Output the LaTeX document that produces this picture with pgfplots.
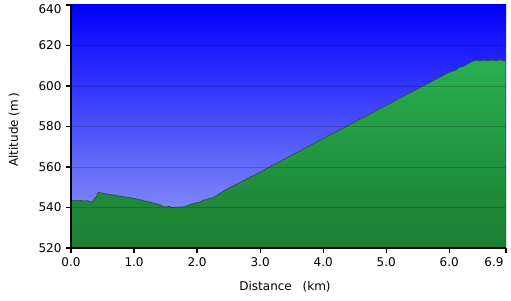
\documentclass[border=0pt]{standalone}
\usepackage{pgfplots}
\pgfplotsset{compat=1.18}
\usepackage{fontspec}
\setmainfont{DejaVu Sans}
\definecolor{skytop}{RGB}{0,0,255}
\definecolor{skybot}{RGB}{150,160,245}
\definecolor{grtop}{RGB}{40,175,80}
\definecolor{grbot}{RGB}{28,125,50}
\definecolor{edge}{RGB}{45,80,60}
\begin{document}
\begin{tikzpicture}[font=\fontsize{12bp}{14bp}\selectfont]
\useasboundingbox (0,0) rectangle (511bp,301bp);
\fill[white] (0,0) rectangle (511bp,301bp);
\begin{axis}[
  at={(71bp,53bp)}, anchor=south west,
  scale only axis, width=435bp, height=243bp,
  xmin=0, xmax=6.9, ymin=520, ymax=640,
  axis lines*=left,
  axis line style={black, line width=1.6bp},
  axis on top,
  xtick={0,1,2,3,4,5,6},
  xticklabels={0.0,1.0,2.0,3.0,4.0,5.0,6.0},
  extra x ticks={6.9},
  extra x tick labels={6.9},
  extra x tick style={xticklabel style={anchor=north east, xshift=1bp}},
  ytick={520,540,...,620},
  yticklabels={520,540,560,580,600,620},
  extra y ticks={640},
  extra y tick labels={640},
  extra y tick style={yticklabel style={yshift=-4bp}},
  tick align=outside,
  major tick length=5bp,
  tick style={black, line width=1.2bp},
  ymajorgrids,
  major grid style={black, opacity=0.18, line width=0.8bp},
  axis background/.style={top color=skytop, bottom color=skybot},
  xticklabel style={yshift=-1bp},
  yticklabel style={xshift=-1bp},
  clip=true,
]
\addplot[draw=edge, line width=0.7bp, top color=grtop, bottom color=grbot] coordinates {
(0,543.4) (0.05,543.6) (0.1,543.3) (0.15,543.5) (0.2,543.2) (0.25,543.4) (0.3,543.0) (0.34,542.6)
(0.37,544.5) (0.40,545.0) (0.42,546.8) (0.44,547.6) (0.5,547.0) (0.6,546.5) (0.8,545.5) (1.0,544.5)
(1.2,543.0) (1.4,541.5) (1.45,540.6) (1.5,540.2) (1.55,540.6) (1.6,540.0) (1.7,540.2) (1.8,540.3)
(1.9,541.5) (1.95,542.0) (2.0,542.4) (2.05,542.8) (2.1,543.6) (2.2,544.5) (2.25,544.8)
(2.5,549.5) (3.0,557.5) (3.5,565.8) (4.0,574.0) (4.5,582.2) (5.0,590.4) (5.5,598.6) (6.0,606.8)
(6.1,607.8) (6.15,609.0) (6.2,609.5) (6.25,610.0) (6.3,611.0) (6.35,612.0) (6.4,612.6) (6.5,612.4)
(6.55,612.8) (6.6,612.5) (6.7,612.8) (6.75,612.4) (6.8,612.9) (6.85,612.6) (6.9,612.3)
} \closedcycle;
\draw[black!20, line width=0.8bp] (axis cs:6.9,520) -- (axis cs:6.9,640);
\end{axis}
\node[rotate=90] at (14bp,171bp) {Altitude (m\,)};
\node at (285bp,14bp) {Distance\hspace{0.9em}(km)};
\end{tikzpicture}
\end{document}
